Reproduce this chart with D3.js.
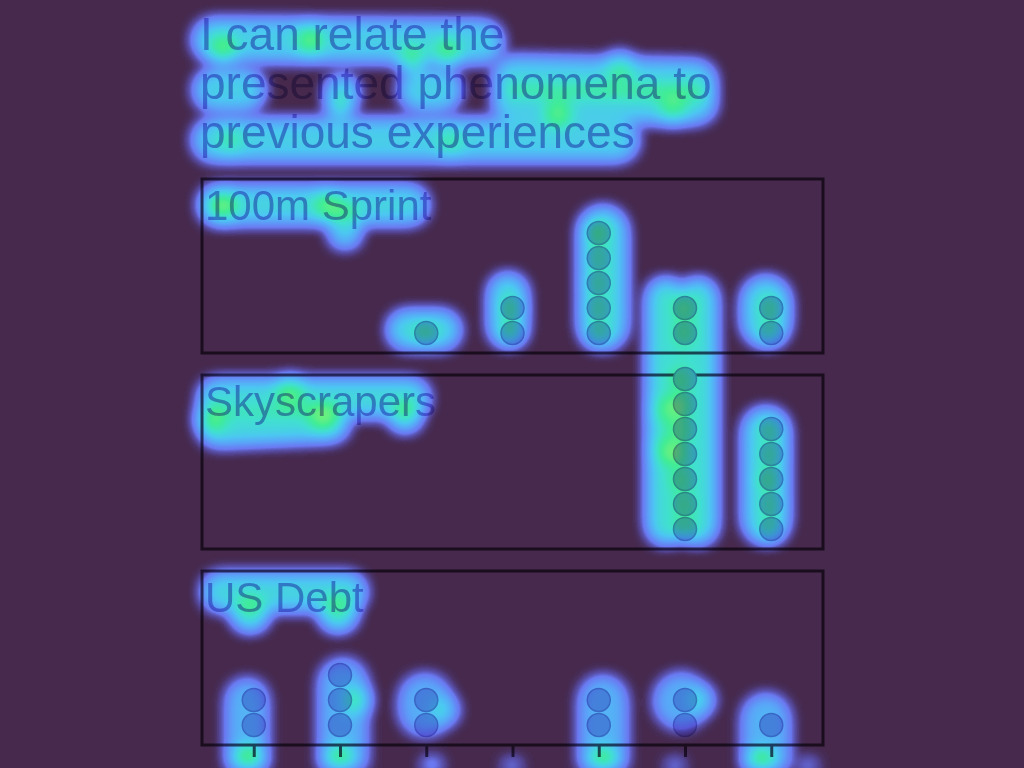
<!DOCTYPE html>
<html><head><meta charset="utf-8">
<script src="https://cdn.jsdelivr.net/npm/d3@7"></script>
<style>html,body{margin:0;padding:0;background:#46294c;overflow:hidden}</style>
</head><body><svg id="c" width="1024" height="768"></svg>
<script>
// ---- data ----
const titleLines = ["I can relate the", "presented phenomena to", "previous experiences"];
const categories = [1, 2, 3, 4, 5, 6, 7];
const panels = ["100m Sprint", "Skyscrapers", "US Debt"];
const sprintCounts = [0, 0, 1, 2, 5, 2, 2];
const skyscraperCounts = [0, 0, 0, 0, 0, 7, 5];
const debtCounts = [2, 3, 2, 0, 2, 2, 1];
const panelCounts = [sprintCounts, skyscraperCounts, debtCounts];
// eye-tracking reading sweeps: [x1, y1, x2, y2, weight, spread] in recording pixels (1024x768)
const gazeSweeps = [
  // title
  [214,40,482,42,.42,19],
  [215,90,244,90,.42,19],[420,90,440,90,.42,19],
  [514,78,695,82,.42,19],[514,102,695,102,.42,19],
  [214,140,617,140,.42,19],
  // panel labels
  [218,205,409,205,.45,17],[345,215,345,232,.42,14],
  [218,398,410,398,.47,17],[218,427,330,422,.47,17],
  [221,592,347,592,.45,17],
  // dot columns, panel 1
  [407,330,441,330,.45,17],
  [508,293,508,327,.45,17],
  [603,231,603,325,.45,22],
  [666,298,666,525,.5,17],[698,298,698,525,.5,17],
  [766,301,766,322,.45,22],
  // panel 2
  [766,431,766,520,.45,21],
  // panel 3
  [247,700,247,775,.3,19],
  [343,683,343,775,.3,22],
  [425,700,425,710,.28,24],
  [603,700,603,775,.3,22],
  [681,700,681,702,.28,25],
  [766,718,766,775,.3,22]
];
// eye-tracking fixations: [x, y, weight, spread]
const gazeFixations = [
  // title hot spots
  [223,48,.55,14],[310,40,.55,14],[412,58,.5,14],[447,52,.5,14],[342,92,.42,15],[340,107,.45,12],
  [558,114,.55,14],[673,108,.45,14],[620,68,.4,14],[230,140,.3,14],[450,142,.3,14],
  // label hot spots
  [223,206,.6,14],[327,206,.5,14],
  [290,392,.5,14],[323,417,.55,14],[405,415,.55,14],[212,418,.5,14],
  [250,612,.55,17],[338,612,.55,17],
  // panel 1 dots
  [425,333,.5,10],
  [511,333,.5,10],[511,308,.5,10],
  [598,333,.45,10],[598,308,.45,10],[598,283,.45,10],[598,258,.45,10],[598,233,.65,10],
  [684,333,.5,10],[684,308,.55,10],
  [770,333,.45,10],[770,308,.5,10],
  // panel 2 dots
  [680,380,.5,10],[680,405,.55,10],[680,430,.5,10],[676,455,.5,10],[680,480,.5,10],[684,505,.45,10],[684,529,.45,10],
  [668,410,.4,14],[668,450,.4,14],
  [770,430,.45,10],[770,455,.45,10],[768,480,.55,10],[770,505,.45,10],[770,529,.45,10],
  // panel 3 hot spots
  [248,758,.65,13],[356,700,.45,13],[340,758,.6,13],[444,710,.3,13],
  [603,760,.65,13],[700,700,.3,13],[762,762,.7,13],
  [432,770,.4,10],[512,772,.4,10],[675,772,.4,10],[808,772,.4,10]
];

// ---- layout ----
const W = 1024, H = 768;
const plotLeft = 202, plotRight = 823, plotTop = 179, plotBottom = 745;
const svg = d3.select("#c");
svg.append("rect").attr("width", W).attr("height", H).attr("fill", "#46294c");

// heat layer
const gx = d3.scaleLinear().domain([0, 1024]).range([0, W]);
const gy = d3.scaleLinear().domain([0, 768]).range([0, H]);
const raw = document.createElement("canvas");
raw.width = W; raw.height = H;
const rc = raw.getContext("2d");
rc.fillStyle = "#000"; rc.strokeStyle = "#000"; rc.lineCap = "round";
gazeSweeps.forEach(([x1, y1, x2, y2, w, s]) => {
  rc.globalAlpha = w;
  rc.lineWidth = 2 * s;
  rc.beginPath(); rc.moveTo(gx(x1), gy(y1)); rc.lineTo(gx(x2) + 0.01, gy(y2)); rc.stroke();
});
gazeFixations.forEach(([x, y, w, s]) => {
  rc.globalAlpha = w;
  rc.beginPath(); rc.arc(gx(x), gy(y), s, 0, 2 * Math.PI); rc.fill();
});
const cv = document.createElement("canvas");
cv.width = W; cv.height = H;
const ctx = cv.getContext("2d");
ctx.filter = "blur(7.5px)";
ctx.drawImage(raw, 0, 0);
ctx.filter = "none";

const stopA = [0, 0.03, 0.1, 0.22, 0.38, 0.52, 0.66, 0.85];
const stopC = ["#5a58d6", "#6060da", "#6a78f0", "#5c9ef8", "#4cc6f2", "#40dfd0", "#40ec96", "#8cf46a"];
const stopO = [0, 0.45, 1, 1, 1, 1, 1, 1];
const colS = d3.scaleLinear().domain(stopA).range(stopC).interpolate(d3.interpolateRgb).clamp(true);
const opS = d3.scaleLinear().domain(stopA).range(stopO).clamp(true);
const lut = d3.range(256).map(i => { const c = d3.rgb(colS(i / 255)); return [c.r, c.g, c.b, Math.round(opS(i / 255) * 255)]; });
const img = ctx.getImageData(0, 0, W, H);
const d = img.data;
for (let i = 0; i < d.length; i += 4) {
  const e = lut[d[i + 3]];
  d[i] = e[0]; d[i + 1] = e[1]; d[i + 2] = e[2]; d[i + 3] = e[3];
}
ctx.putImageData(img, 0, 0);
svg.append("image").attr("x", 0).attr("y", 0).attr("width", W).attr("height", H)
  .attr("href", cv.toDataURL());

// chart layer (multiplied over heat)
const chart = svg.append("g").style("mix-blend-mode", "multiply");
const x = d3.scalePoint().domain(categories).range([plotLeft, plotRight]).padding(0.6);
const py = d3.scaleBand().domain(panels).range([plotTop, plotBottom]).paddingInner(22 / 196).paddingOuter(0);
const bw = py.bandwidth();
const stack = d3.scaleLinear().domain([0, 1]).range([bw - 20, bw - 45]);
const font = "Liberation Sans, Arial, sans-serif";
const inkText = "rgb(165,150,215)";
const inkLine = "rgb(90,80,100)";

chart.append("g").selectAll("text").data(titleLines).join("text")
  .attr("x", 200).attr("y", (d, i) => 50 + i * 49)
  .attr("font-family", font).attr("font-size", 46)
  .attr("fill", inkText).text(d => d);

panels.forEach((p, pi) => {
  const g = chart.append("g").attr("transform", `translate(0,${py(p)})`);
  g.append("rect").attr("x", plotLeft).attr("y", 0).attr("width", plotRight - plotLeft).attr("height", bw)
    .attr("fill", "none").attr("stroke", inkLine).attr("stroke-width", 3);
  g.append("text").attr("x", 205).attr("y", 41)
    .attr("font-family", font).attr("font-size", 42)
    .attr("fill", inkText).text(p);
  const dots = [];
  panelCounts[pi].forEach((n, ci) => { for (let k = 0; k < n; k++) dots.push({ c: categories[ci], k }); });
  g.selectAll("circle").data(dots).join("circle")
    .attr("cx", dd => x(dd.c)).attr("cy", dd => stack(dd.k)).attr("r", 11.5)
    .attr("fill", "rgb(205,185,228)").attr("stroke", "rgb(165,150,205)").attr("stroke-width", 1.5);
});

const axis = chart.append("g").attr("transform", `translate(0,${plotBottom})`)
  .call(d3.axisBottom(x).tickSize(12).tickFormat(() => ""));
axis.select(".domain").remove();
axis.selectAll("line").attr("stroke", inkLine).attr("stroke-width", 3);
</script></body></html>
